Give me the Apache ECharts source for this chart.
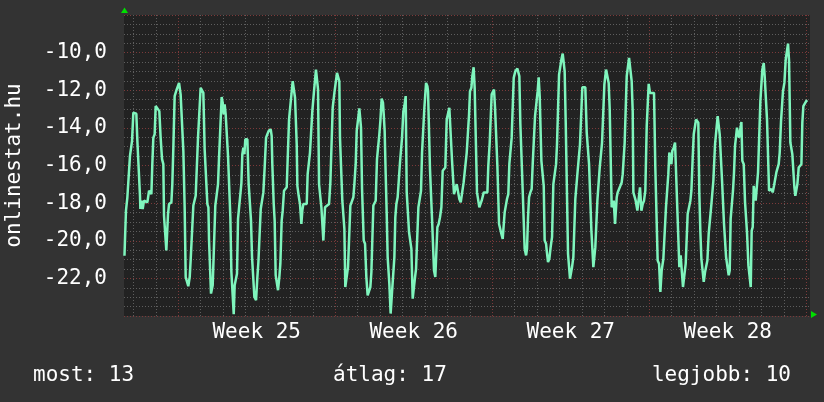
<!DOCTYPE html>
<html>
<head>
<meta charset="utf-8">
<script src="https://cdn.jsdelivr.net/npm/echarts@6/dist/echarts.min.js"></script>
<style>
  html, body { margin: 0; padding: 0; background: #333333; }
  #chart { width: 824px; height: 402px; }
</style>
</head>
<body>
<div id="chart"></div>
<script>
// [hours since left edge of graph, value]
var rankPoints = [
  [0.5,-20.8],[2.1,-18.4],[3.6,-17.69],[5.4,-17.61],[6.4,-15.49],[7.9,-15.4],[8.6,-14.69],[9.3,-14.61],[10.0,-13.19],[13.2,-13.25],
  [14.3,-14.69],[16.1,-14.78],[17.1,-17.61],[17.5,-18.31],[18.6,-17.87],[20.0,-18.31],[21.4,-17.87],[25.0,-17.96],[26.8,-17.34],[29.3,-17.52],
  [30.3,-15.93],[31.4,-14.52],[32.8,-14.34],[33.9,-12.84],[35.7,-12.89],[37.8,-13.11],[39.2,-14.52],[40.7,-15.66],[42.1,-15.93],[42.8,-18.66],
  [43.9,-18.75],[45.3,-20.52],[46.4,-20.52],[47.1,-18.58],[48.2,-18.05],[50.7,-17.96],[51.7,-16.99],[52.8,-15.05],[54.2,-12.31],[56.4,-11.96],
  [58.9,-11.61],[59.9,-11.69],[60.6,-12.22],[62.4,-12.31],[63.5,-15.22],[64.9,-18.22],[66.0,-21.93],[67.8,-22.02],[68.8,-22.42],[70.3,-21.93],
  [71.3,-21.05],[72.4,-20.96],[74.2,-18.13],[75.6,-18.05],[76.7,-17.61],[78.1,-17.52],[79.2,-14.52],[80.3,-14.48],[82.0,-11.87],[83.5,-11.96],
  [84.9,-12.14],[86.3,-15.14],[87.4,-15.22],[89.2,-18.05],[90.3,-18.22],[91.0,-19.99],[92.0,-19.99],[93.1,-22.81],[94.9,-22.37],[96.3,-22.37],
  [97.7,-18.13],[99.2,-18.05],[100.6,-16.99],[101.7,-15.58],[103.1,-15.49],[104.5,-12.36],[105.6,-12.66],[106.7,-13.28],[107.7,-12.75],[108.8,-13.28],
  [110.2,-13.37],[111.3,-15.49],[112.4,-15.58],[113.8,-18.75],[114.9,-21.66],[116.3,-21.75],[117.4,-23.9],[118.4,-22.37],[119.5,-22.37],[120.9,-21.75],
  [122.0,-18.84],[123.4,-18.84],[124.5,-17.52],[125.6,-16.95],[126.6,-15.4],[127.7,-15.05],[128.8,-15.4],[129.8,-14.61],[132.0,-14.61],[133.4,-16.99],
  [134.8,-17.08],[135.9,-18.93],[137.0,-20.87],[138.4,-20.87],[139.5,-22.99],[141.3,-23.16],[142.7,-21.93],[143.8,-21.13],[144.8,-21.05],[146.3,-18.31],
  [147.7,-18.22],[149.1,-17.43],[150.5,-16.11],[152.0,-14.52],[153.4,-14.34],[154.8,-14.16],[157.0,-14.08],[158.0,-14.43],[158.7,-15.93],[160.2,-18.05],
  [161.2,-18.93],[162.3,-21.84],[163.7,-21.93],[164.8,-22.63],[166.2,-21.93],[167.3,-21.22],[168.7,-18.93],[169.8,-18.4],[171.2,-17.34],[174.1,-17.16],
  [175.5,-15.14],[176.6,-13.55],[177.6,-13.55],
  [180.5,-11.52],[181.9,-11.52],[183.0,-12.4],[184.0,-12.44],[184.8,-14.87],[185.5,-17.08],[186.9,-17.61],[188.3,-18.05],[189.8,-19.11],[190.8,-18.4],
  [191.9,-18.05],[195.5,-18.05],[196.5,-16.46],[198.0,-16.46],[199.0,-15.31],[200.5,-15.22],[201.5,-13.11],[202.6,-13.02],[203.3,-12.05],[205.4,-10.9],
  [206.9,-10.95],[207.6,-11.96],[208.7,-16.99],[209.7,-17.08],[211.2,-18.22],[212.6,-18.31],[213.3,-19.99],[214.4,-19.99],[215.1,-18.22],[216.9,-18.13],
  [219.4,-18.05],[220.8,-16.9],[221.9,-16.81],[223.3,-12.93],[225.1,-12.14],[226.5,-11.61],[227.9,-11.08],[229.3,-11.08],[230.4,-11.52],[231.1,-14.52],
  [232.6,-14.61],[233.6,-17.87],[234.7,-17.96],[235.8,-19.37],[236.8,-22.46],[238.3,-22.46],[239.7,-21.4],[241.1,-21.4],[242.2,-18.13],[244.0,-18.05],
  [245.4,-17.69],[246.5,-16.99],[247.9,-15.93],[249.0,-14.16],[250.4,-14.08],[251.8,-12.96],[252.9,-13.02],[253.6,-13.99],[254.7,-17.25],[255.7,-17.34],
  [256.5,-19.99],[257.9,-20.16],[259.3,-21.93],[260.7,-22.9],[262.2,-22.9],[263.6,-22.46],[264.7,-21.66],[265.7,-21.66],[266.8,-18.13],[268.2,-18.05],
  [269.3,-17.87],[270.7,-15.66],[272.2,-15.58],[273.2,-14.34],[274.3,-13.64],[275.7,-12.44],[277.1,-12.66],[277.9,-13.28],[278.9,-14.16],[280.0,-16.46],
  [281.1,-18.58],[282.1,-20.87],[283.2,-20.96],[283.9,-22.28],[285.3,-23.87],[286.8,-22.72],[287.8,-22.72],[289.3,-20.87],[290.3,-18.75],[291.4,-18.05],
  [292.8,-17.69],[293.9,-17.61],[295.3,-15.84],[296.4,-15.75],[297.5,-14.52],[298.9,-13.11],[300.0,-12.84],[301.4,-12.31],[302.5,-17.43],[303.9,-17.52],
  [305.0,-19.55],[306.4,-19.64],[307.5,-20.43],[308.9,-23.08],[310.3,-22.99],[311.4,-21.93],[312.5,-21.49],[313.2,-20.52],[315.0,-18.22],[316.4,-18.22],
  [317.8,-17.34],[318.9,-15.31],[320.3,-15.22],[321.4,-12.93],[322.4,-12.93],[323.2,-11.61],[324.6,-11.78],[325.3,-12.05],[326.7,-12.14],[327.4,-16.19],
  [328.9,-16.28],[329.6,-18.84],[331.0,-18.93],[331.7,-21.58],[333.1,-21.93],[334.6,-21.93],[335.3,-19.28],[336.7,-19.11],[338.1,-18.75],[339.6,-18.22],
  [341.0,-16.28],[342.4,-16.19],[343.8,-16.11],[345.3,-13.55],[346.7,-13.46],[348.1,-12.93],[349.6,-12.84],[351.0,-15.75],[352.4,-15.84],[353.1,-17.52],
  [354.5,-17.52],[356.0,-16.99],[357.4,-17.08],[358.8,-17.78],[360.3,-17.96],[361.7,-18.05],
  [363.4,-16.9],[365.2,-16.81],[366.7,-15.31],[368.1,-15.22],[369.2,-13.28],[370.2,-12.05],[371.7,-11.87],[372.7,-11.25],[374.1,-10.78],[375.2,-11.87],
  [376.6,-11.96],[377.7,-17.43],[379.1,-17.52],[380.2,-18.22],[381.3,-18.31],[382.7,-17.87],[383.8,-17.78],[384.9,-17.43],[388.8,-17.43],[389.8,-16.02],
  [391.3,-14.78],[392.7,-14.69],[393.4,-12.22],[394.8,-12.14],[395.9,-11.96],[397.0,-12.93],[398.4,-13.02],[399.5,-16.02],[400.5,-16.11],[401.3,-19.11],
  [402.7,-19.19],[403.8,-19.64],[405.2,-19.9],[406.3,-19.9],[407.3,-18.49],[408.7,-18.4],[409.8,-17.78],[411.2,-17.52],[412.3,-15.93],[413.7,-15.84],
  [414.8,-14.52],[415.9,-14.43],[417.0,-11.34],[418.7,-10.99],[420.9,-10.85],[421.9,-10.85],[423.0,-11.25],[424.1,-13.81],[425.5,-13.9],[426.6,-17.34],
  [428.0,-17.34],[428.7,-20.43],[430.2,-20.78],[431.2,-20.43],[432.3,-18.75],[433.4,-17.69],[434.8,-17.43],[436.2,-17.25],[437.3,-15.93],[438.4,-15.84],
  [439.8,-13.37],[441.2,-13.28],[442.6,-12.05],[443.7,-11.31],[444.8,-12.31],[445.8,-12.4],[446.6,-15.75],[448.0,-15.84],[449.1,-17.08],[450.1,-19.99],
  [451.6,-20.16],[452.3,-20.52],[453.7,-21.13],[455.1,-20.96],[456.5,-20.34],[458.0,-19.81],[459.4,-16.99],[460.8,-16.9],[462.3,-15.93],[463.3,-14.87],
  [464.8,-14.78],[465.5,-11.17],[466.9,-11.08],[468.0,-10.37],[469.4,-10.05],[470.5,-10.05],[471.5,-10.99],[472.6,-13.64],[473.7,-13.72],[475.1,-20.69],
  [476.2,-20.78],[477.2,-22.02],[478.3,-22.02],[479.4,-21.4],[480.8,-20.87],[481.9,-20.78],[482.9,-17.78],[484.0,-17.69],[485.4,-16.28],[486.9,-16.19],
  [487.9,-14.87],[489.4,-14.78],[490.4,-11.84],[493.6,-11.84],[495.1,-14.25],[496.1,-14.34],[497.6,-15.93],[498.6,-16.02],[500.1,-19.46],[501.1,-19.55],
  [502.2,-21.4],[503.3,-21.4],[504.3,-20.34],[505.4,-20.25],[506.5,-17.87],[507.9,-17.78],[509.0,-16.11],[510.1,-16.02],[511.5,-14.78],[512.9,-14.69],
  [514.0,-11.69],[515.0,-11.61],[515.8,-10.9],[517.2,-10.99],[518.6,-11.61],[519.7,-13.02],[520.8,-13.11],[521.8,-18.22],[522.9,-18.31],[524.0,-17.87],
  [525.4,-19.11],[526.5,-19.11],[527.2,-17.69],[528.2,-17.43],[529.7,-17.34],[531.1,-17.08],[532.5,-16.9],[533.6,-16.46],[534.7,-16.37],[535.7,-14.78],
  [537.2,-14.69],[537.9,-11.25],[539.3,-11.17],[540.4,-10.28],[542.2,-10.28],[543.2,-11.52],[544.3,-13.11],[545.0,-17.43],
  [545.7,-17.48],[547.5,-17.87],[549.3,-18.4],[550.7,-18.4],[552.1,-17.16],[553.6,-18.4],[555.0,-18.05],[556.4,-17.87],[557.8,-17.34],[559.3,-13.9],
  [560.3,-13.81],[561.4,-11.66],[562.8,-12.14],[567.1,-12.14],[568.5,-16.11],[569.6,-16.19],[571.0,-21.05],[572.5,-21.22],[573.9,-22.72],[575.3,-21.58],
  [577.1,-20.96],[578.5,-20.96],[579.9,-18.22],[581.0,-18.22],[582.4,-16.46],[583.5,-15.31],[584.6,-15.22],[585.7,-15.93],[586.7,-15.22],[588.2,-15.05],
  [589.6,-14.78],[590.6,-14.78],[592.1,-18.4],[593.5,-18.49],[594.2,-21.4],[595.6,-20.78],[596.7,-20.78],[598.1,-22.46],[599.6,-22.46],[601.0,-21.22],
  [602.1,-21.22],[603.1,-18.58],[604.6,-18.49],[606.0,-17.87],[607.1,-17.34],[608.5,-15.58],[609.6,-14.34],[610.6,-14.25],[612.1,-13.55],[613.5,-13.64],
  [614.5,-13.72],[615.6,-17.52],[616.7,-19.55],[617.8,-20.96],[619.2,-21.05],[620.3,-22.19],[621.7,-21.66],[623.1,-21.66],[624.2,-21.05],[625.6,-19.64],
  [627.0,-19.55],[628.5,-18.05],[629.5,-17.96],[630.6,-16.81],[631.7,-16.72],[632.4,-14.87],[633.8,-14.78],[635.2,-13.37],[636.3,-13.46],[637.4,-14.34],
  [638.8,-14.43],[639.9,-16.81],[640.9,-16.81],[642.0,-19.11],[643.1,-19.19],[644.2,-20.87],[645.6,-20.96],[647.0,-21.84],[648.1,-21.58],[649.1,-18.84],
  [650.6,-18.75],[651.6,-17.34],[652.7,-16.37],[653.8,-14.96],[654.9,-14.87],[655.9,-13.99],[657.0,-14.34],[658.1,-14.52],[659.1,-14.16],[660.6,-13.69],
  [661.6,-15.75],[663.1,-15.93],[664.5,-17.96],[665.6,-18.05],[666.6,-19.55],[668.1,-21.31],[669.1,-21.4],[670.6,-22.46],[671.6,-19.46],[672.7,-19.28],
  [673.8,-17.08],[674.8,-17.16],[675.9,-17.87],[677.3,-17.78],[678.4,-16.37],[679.8,-16.28],[680.9,-12.58],[682.0,-12.49],[683.0,-10.9],[684.5,-10.55],
  [685.5,-11.25],[687.0,-11.34],[688.0,-13.55],[689.1,-13.64],[690.2,-17.34],[691.2,-17.43],[692.7,-17.25],[694.1,-17.43],[695.5,-17.08],[696.9,-17.08],
  [698.0,-16.37],[699.1,-16.37],[700.5,-15.93],[701.6,-15.31],[703.0,-13.64],[704.1,-13.55],[705.1,-12.05],[706.6,-11.61],[708.0,-10.37],[709.4,-10.28],
  [710.5,-9.52],[711.6,-10.46],[713.0,-14.78],[714.1,-14.87],[715.1,-15.4],[716.2,-15.49],[717.3,-17.16],[718.3,-17.61],[719.4,-17.61],[720.5,-16.99],
  [721.9,-16.11],[723.0,-16.02],[724.8,-15.93],[725.8,-13.72],[726.9,-12.84],[728.3,-12.75],[730.1,-12.57],[731.2,-12.53]
];

var weekLabels = ["Week 25", "Week 26", "Week 27", "Week 28"];
var statNames = ["most", "átlag", "legjobb"];
var statValues = [13, 17, 10];

var totalHours = 734;     // width of the graph in hours
var firstMidnight = 10;   // hour of the first day line
var firstWeek = 58;       // hour of the first week line

var hourCats = [];
for (var i = 0; i <= totalHours; i++) hourCats.push(i);

function isWeekLine(idx) {
  return idx >= firstWeek && (idx - firstWeek) % 168 === 0;
}
function isDayLine(idx) {
  return idx >= firstMidnight && (idx - firstMidnight) % 24 === 0 && !isWeekLine(idx);
}
function weekLabelAt(idx) {
  var k = (idx - firstWeek - 84) / 168;
  return (k >= 0 && k === Math.floor(k)) ? weekLabels[k] : null;
}

var FONT = "DejaVu Sans Mono";
var grayDot = { color: "#5e5e5e", width: 1, type: [1, 2] };
var redDot = { color: "#7c3a3a", width: 1, type: [1, 2] };

var myChart = echarts.init(document.getElementById("chart"));
var option = {
  backgroundColor: "#333333",
  animation: false,
  grid: {
    left: 124, top: 15, width: 686, height: 301, containLabel: false, outerBoundsMode: "none",
    show: true, backgroundColor: "#222222", borderWidth: 0
  },
  xAxis: [
    { type: "value", min: 0, max: totalHours, show: false },
    {
      type: "category", data: hourCats, boundaryGap: false, position: "bottom",
      axisLine: { show: false }, axisTick: { show: false },
      axisLabel: {
        interval: function (idx) { return weekLabelAt(idx) !== null; },
        formatter: function (v, idx) { return weekLabelAt(idx) || ""; },
        color: "#ffffff", fontFamily: FONT, fontSize: 21, margin: 6
      },
      splitLine: { show: true, interval: function (idx) { return isDayLine(idx); }, lineStyle: grayDot }
    },
    {
      type: "category", data: hourCats, boundaryGap: false, position: "bottom",
      axisLine: { show: false }, axisTick: { show: false }, axisLabel: { show: false },
      splitLine: { show: true, interval: function (idx) { return isWeekLine(idx); }, lineStyle: redDot }
    }
  ],
  yAxis: {
    type: "value", min: -24, max: -8, interval: 2,
    name: "onlinestat.hu", nameLocation: "middle", nameRotate: 90, nameGap: 99,
    nameTextStyle: { color: "#ffffff", fontFamily: FONT, fontSize: 21 },
    axisLine: { show: false }, axisTick: { show: false },
    axisLabel: {
      showMinLabel: false, showMaxLabel: false, margin: 17,
      color: "#ffffff", fontFamily: FONT, fontSize: 21,
      formatter: function (v) { return v.toFixed(1).replace(".", ","); }
    },
    splitLine: { show: true, lineStyle: redDot },
    minorTick: { show: false, splitNumber: 4 },
    minorSplitLine: { show: true, lineStyle: grayDot }
  },
  series: [{
    type: "line", xAxisIndex: 0, data: rankPoints, showSymbol: false,
    lineStyle: { color: "#7ff5bd", width: 2.5 }, z: 5
  }],
  graphic: [
    { type: "polygon", shape: { points: [[124.5, 7.5], [121, 13], [128, 13]] }, style: { fill: "#00e000" } },
    { type: "polygon", shape: { points: [[817, 314.5], [811, 311], [811, 318]] }, style: { fill: "#00e000" } },
    { type: "text", left: 33, top: 365, style: { text: statNames[0] + ": " + statValues[0], fill: "#ffffff", font: "21px " + FONT } },
    { type: "text", left: 333, top: 365, style: { text: statNames[1] + ": " + statValues[1], fill: "#ffffff", font: "21px " + FONT } },
    { type: "text", right: 33, top: 365, style: { text: statNames[2] + ": " + statValues[2], fill: "#ffffff", font: "21px " + FONT } }
  ]
};
myChart.setOption(option);
</script>
</body>
</html>
